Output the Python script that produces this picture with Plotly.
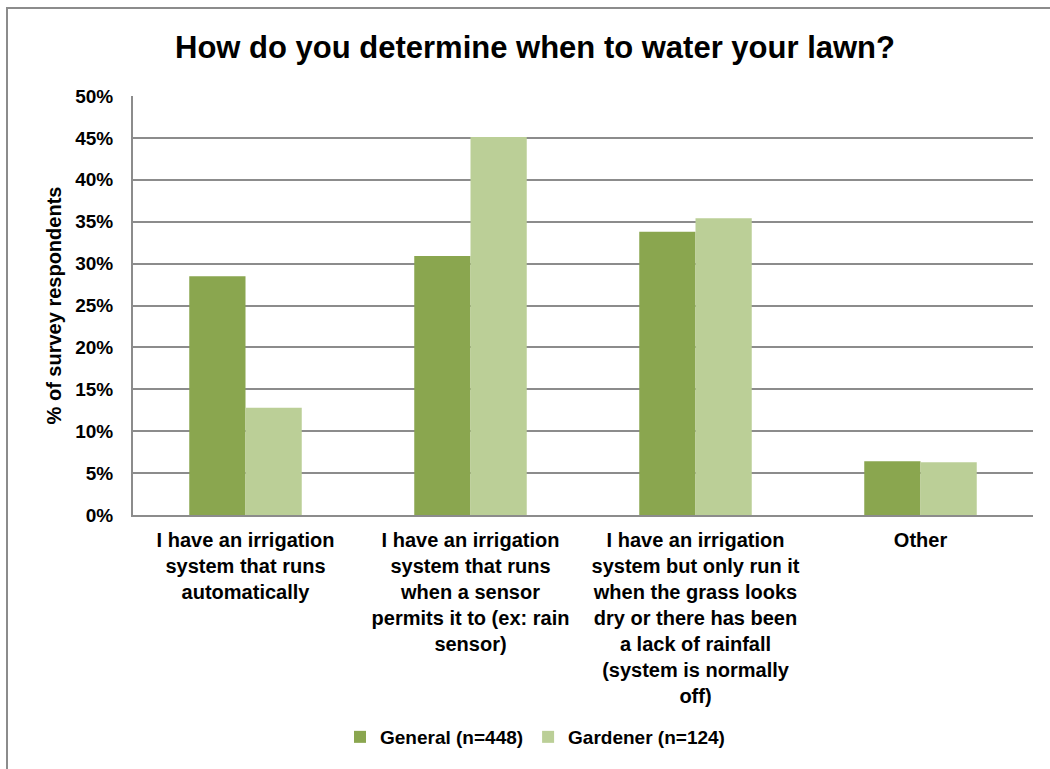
import plotly.graph_objects as go

categories = [
    "I have an irrigation<br>system that runs<br>automatically",
    "I have an irrigation<br>system that runs<br>when a sensor<br>permits it to (ex: rain<br>sensor)",
    "I have an irrigation<br>system but only run it<br>when the grass looks<br>dry or there has been<br>a lack of rainfall<br>(system is normally<br>off)",
    "Other",
]
general = [28.5, 30.9, 33.8, 6.4]
gardener = [12.8, 45.1, 35.4, 6.3]
series_names = ["General (n=448)", "Gardener (n=124)"]
y_ticks = [0, 5, 10, 15, 20, 25, 30, 35, 40, 45, 50]

FONT = "Liberation Sans, Arial, sans-serif"
W, H = 1050, 769
ML, MR, MT, MB = 133, 17, 96, 254
PW, PH = W - ML - MR, H - MT - MB

def px_x(px):
    return (px - ML) / PW

def px_y(py):
    return (H - MB - py) / PH

fig = go.Figure()
fig.add_trace(go.Bar(x=categories, y=general, name=f"<b>{series_names[0]}</b>",
                     marker=dict(color="#8aa64f", line=dict(width=0))))
fig.add_trace(go.Bar(x=categories, y=gardener, name=f"<b>{series_names[1]}</b>",
                     marker=dict(color="#bbcf97", line=dict(width=0))))

fig.update_layout(
    width=W, height=H,
    margin=dict(l=ML, r=MR, t=MT, b=MB),
    paper_bgcolor="white", plot_bgcolor="white",
    barmode="group", bargap=0.5, bargroupgap=0,
    font=dict(family=FONT, color="black", size=19),
    title=dict(text="<b>How do you determine when to water your lawn?</b>",
               x=px_x(535), xref="paper", xanchor="center",
               y=1 - 47 / H, yanchor="middle",
               font=dict(size=31, family=FONT, color="black")),
    legend=dict(orientation="h", x=px_x(535), xanchor="center",
                y=px_y(737), yanchor="middle",
                font=dict(size=19, family=FONT, color="black"),
                itemwidth=30, traceorder="normal"),
    showlegend=True,
)
fig.update_xaxes(
    showgrid=False, showline=True, linecolor="#8c8c8c", linewidth=2,
    tickfont=dict(size=20, family=FONT, color="black"),
    ticks="", tickangle=0, ticklabelstandoff=6,
    tickprefix="<b>", ticksuffix="</b>",
)
fig.update_yaxes(
    range=[0, 50], tickvals=y_ticks,
    ticktext=[f"<b>{v}%</b>" for v in y_ticks],
    showgrid=True, gridcolor="#8c8c8c", gridwidth=1.5,
    showline=True, linecolor="#8c8c8c", linewidth=2,
    ticks="", ticklabelstandoff=14,
    tickfont=dict(size=19, family=FONT, color="black"),
    zeroline=False,
    title=dict(text="<b>% of survey respondents</b>", standoff=8,
               font=dict(size=20, family=FONT, color="black")),
)

# outer chart border (left and top edges visible)
fig.add_shape(type="rect", xref="paper", yref="paper",
              x0=px_x(7), x1=px_x(1060), y0=px_y(780), y1=px_y(8),
              line=dict(color="#8c8c8c", width=2), fillcolor="rgba(0,0,0,0)",
              layer="below")

fig.write_html("out.html")
